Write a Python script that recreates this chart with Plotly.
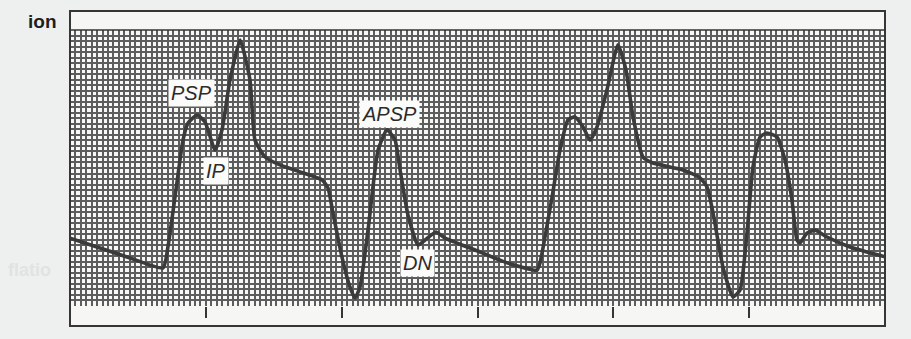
import plotly.graph_objects as go

# Arterial pressure trace (time in s, pressure in mmHg)
time_s = [0.000, 0.221, 0.442, 0.685, 0.721, 0.773, 0.832, 0.869, 0.935, 0.994,
          1.068, 1.119, 1.178, 1.252, 1.325, 1.362, 1.436, 1.546, 1.693, 1.855,
          1.899, 1.936, 2.002, 2.061, 2.098, 2.135, 2.194, 2.268, 2.334, 2.393,
          2.430, 2.488, 2.562, 2.614, 2.694, 2.761, 2.982, 3.203, 3.438, 3.460,
          3.549, 3.607, 3.666, 3.718, 3.777, 3.828, 3.880, 3.953, 4.034, 4.093,
          4.145, 4.218, 4.292, 4.513, 4.638, 4.690, 4.734, 4.807, 4.881, 4.933,
          4.984, 5.028, 5.080, 5.131, 5.205, 5.264, 5.315, 5.352, 5.374, 5.426,
          5.485, 5.573, 5.742, 6.000]
pressure = [64.6, 61.0, 57.4, 53.8, 61.4, 79.5, 100.1, 106.3, 109.2, 106.7,
            96.5, 103.8, 121.9, 136.4, 121.9, 100.1, 94.0, 91.1, 88.6, 85.7,
            82.8, 73.7, 57.8, 46.9, 42.9, 46.9, 67.5, 96.5, 103.8, 100.1,
            89.3, 73.0, 62.1, 63.9, 66.8, 64.6, 60.3, 55.9, 53.0, 55.6,
            79.5, 96.5, 107.4, 108.5, 104.9, 100.1, 104.9, 118.3, 134.6, 125.5,
            108.5, 94.0, 91.8, 89.3, 86.4, 83.1, 73.7, 54.1, 43.3, 45.8,
            66.4, 90.4, 101.2, 102.7, 101.2, 92.9, 78.4, 63.9, 62.8, 66.4,
            67.5, 65.0, 61.4, 57.8]

time_marks = [1, 2, 3, 4, 5]

labels = ["PSP", "IP", "APSP", "DN"]
label_t = [0.898, 1.075, 2.349, 2.555]
label_p = [117.2, 88.9, 109.6, 55.6]

fig = go.Figure()
fig.add_trace(go.Scatter(x=time_s, y=pressure, mode="lines",
                         line=dict(color="#3a3b3a", width=3.6, shape="spline", smoothing=0.5),
                         hoverinfo="skip", showlegend=False))
# invisible trace to host the time-mark axis
fig.add_trace(go.Scatter(x=[time_marks[0]], y=[pressure[0]], xaxis="x2", mode="markers",
                         marker=dict(opacity=0), showlegend=False, hoverinfo="skip"))

for txt, t, p in zip(labels, label_t, label_p):
    fig.add_annotation(x=t, y=p, text=txt, showarrow=False,
                       font=dict(family="Liberation Sans, Arial", size=20, color="#2b2b2b",
                                 style="italic"),
                       bgcolor="#fbfbf9", borderpad=2)

# frame bands
frame_col = "#353635"
fig.add_shape(type="rect", xref="paper", yref="paper", x0=0, x1=1, y0=1.0, y1=1.069,
              fillcolor="#f6f7f5", line=dict(width=0), layer="below")
fig.add_shape(type="rect", xref="paper", yref="paper", x0=0, x1=1, y0=-0.0725, y1=0.0,
              fillcolor="#f6f7f5", line=dict(width=0), layer="below")
fig.add_shape(type="rect", xref="paper", yref="paper", x0=0, x1=1, y0=-0.0725, y1=1.069,
              line=dict(color=frame_col, width=2))
fig.add_shape(type="line", xref="paper", yref="paper", x0=0, x1=1, y0=1.0, y1=1.0,
              line=dict(color=frame_col, width=1.5))

fig.add_annotation(xref="paper", yref="paper", x=-0.0335, y=1.029, xanchor="center",
                   yanchor="middle", text="<b>ion</b>", showarrow=False,
                   font=dict(family="Liberation Sans, Arial", size=19, color="#1e1e1e"))
fig.add_annotation(xref="paper", yref="paper", x=-0.05, y=0.13, xanchor="center",
                   yanchor="middle", text="<b>flatio</b>", showarrow=False,
                   font=dict(family="Liberation Sans, Arial", size=18, color="#e0e3e2"))

grid_col = "#5c5e5d"
fig.update_layout(
    width=911, height=339,
    margin=dict(l=70, r=26, t=30, b=33),
    paper_bgcolor="#eef0ef",
    plot_bgcolor="#f7f8f6",
    xaxis=dict(range=[0, 6], dtick=0.2, showgrid=True, gridcolor=grid_col, gridwidth=2.2,
               minor=dict(dtick=0.04, showgrid=True, gridcolor=grid_col, gridwidth=1.6, ticks=""),
               showticklabels=False, ticks="", zeroline=False, showline=False, fixedrange=True),
    xaxis2=dict(range=[0, 6], overlaying="x", side="bottom", tickvals=time_marks,
                ticks="outside", ticklen=11, tickwidth=2, tickcolor=frame_col,
                showgrid=False, showticklabels=False, zeroline=False, showline=False,
                fixedrange=True),
    yaxis=dict(range=[40, 140], dtick=10, showgrid=True, gridcolor=grid_col, gridwidth=2.2,
               minor=dict(dtick=2, showgrid=True, gridcolor=grid_col, gridwidth=1.6, ticks=""),
               showticklabels=False, ticks="", zeroline=False, showline=False, fixedrange=True),
)

fig.write_html("out.html", config={"displayModeBar": False},
               post_script="document.body.style.margin='0';document.body.style.background='#eef0ef';")
